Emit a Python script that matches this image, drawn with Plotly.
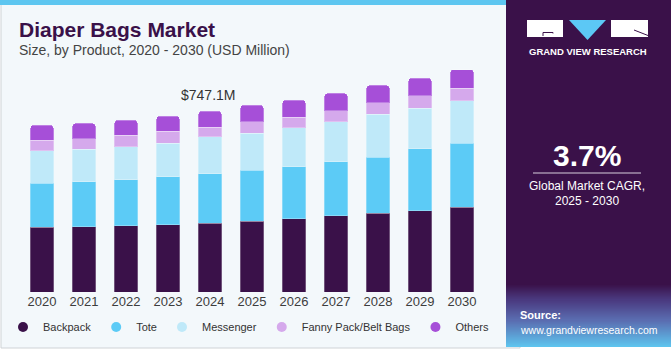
import plotly.graph_objects as go

# ---------------- data ----------------
years = ['2020', '2021', '2022', '2023', '2024', '2025', '2026', '2027', '2028', '2029', '2030']
backpack = [268, 270, 275, 278, 285, 293, 303, 315, 326, 337, 351]
tote = [183, 186, 190, 198, 203.5, 211, 216, 223, 232, 255, 264]
messenger = [133, 135, 136, 140, 152.6, 153, 160, 166, 176, 168, 175]
fanny = [44, 43, 48, 48, 40, 47, 44, 45, 48, 51, 52]
others = [62, 63, 61, 63, 66, 68, 70, 72, 72, 73, 77]
series_names = ['Backpack', 'Tote', 'Messenger', 'Fanny Pack/Belt Bags', 'Others']
series_values = [backpack, tote, messenger, fanny, others]
series_colors = ['#3a1149', '#5ccbf6', '#bfe9f9', '#d5a9ec', '#a64fd8']
highlight_year = '2024'
highlight_label = '$747.1M'
cagr_text = '3.7%'

W, H = 671, 350
FONT = 'Liberation Sans, Arial, sans-serif'


def X(px):
    return px / W


def Y(py):
    return 1 - py / H


fig = go.Figure()

for name, vals, col in zip(series_names, series_values, series_colors):
    fig.add_trace(go.Bar(
        x=years, y=vals, name=name, marker_color=col,
        marker_line=dict(color='rgba(255,255,255,0.28)', width=1),
        showlegend=False, hoverinfo='x+y+name'))

# legend entries with round markers (no data drawn)
for name, col in zip(series_names, series_colors):
    fig.add_trace(go.Scatter(
        x=[years[0]], y=[None], mode='markers', name=name,
        marker=dict(symbol='circle', size=10, color=col), showlegend=True, hoverinfo='skip'))

hi = years.index(highlight_year)
total_hi = sum(v[hi] for v in series_values)

shapes = []
shapes.append(dict(type='rect', xref='paper', yref='paper', x0=X(1), x1=X(520), y0=Y(348), y1=Y(0),
                   line=dict(color='#cfd3d6', width=1), fillcolor='#f3f8fb', layer='below'))
shapes.append(dict(type='rect', xref='paper', yref='paper', x0=0, x1=X(506), y0=Y(5), y1=1,
                   line=dict(width=0), fillcolor='#5dc6f0', layer='below'))
shapes.append(dict(type='rect', xref='paper', yref='paper', x0=X(506), x1=1, y0=Y(284), y1=1,
                   line=dict(width=0), fillcolor='#3a1149', layer='below'))


def lerp(c1, c2, t):
    a = [int(c1[i:i + 2], 16) for i in (1, 3, 5)]
    b = [int(c2[i:i + 2], 16) for i in (1, 3, 5)]
    return 'rgb(%d,%d,%d)' % tuple(round(a[k] + (b[k] - a[k]) * t) for k in range(3))


stops = [(284, '#3a1149'), (300, '#4a3a80'), (320, '#5a6cb0'), (347, '#5ec4ee')]
for (ya, ca), (yb, cb) in zip(stops[:-1], stops[1:]):
    n = int(yb - ya)
    for i in range(n):
        shapes.append(dict(type='rect', xref='paper', yref='paper', x0=X(506), x1=1,
                           y0=Y(ya + i + 1.05), y1=Y(ya + i),
                           line=dict(width=0), fillcolor=lerp(ca, cb, i / max(n - 1, 1)), layer='below'))

# logo
shapes.append(dict(type='rect', xref='paper', yref='paper', x0=X(527), x1=X(563), y0=Y(37), y1=Y(20),
                   line=dict(width=0), fillcolor='white'))
shapes.append(dict(type='path', xref='paper', yref='paper',
                   path='M %f %f L %f %f L %f %f L %f %f' % (X(543), Y(36), X(543), Y(32.5), X(553), Y(32.5), X(553), Y(33.5)),
                   line=dict(color='#3a1149', width=1)))
shapes.append(dict(type='path', xref='paper', yref='paper',
                   path='M %f %f L %f %f L %f %f Z' % (X(569), Y(20), X(606), Y(20), X(587.5), Y(40)),
                   line=dict(width=0), fillcolor='#5cc8f5'))
shapes.append(dict(type='rect', xref='paper', yref='paper', x0=X(611), x1=X(648), y0=Y(37), y1=Y(20),
                   line=dict(width=0), fillcolor='white'))
shapes.append(dict(type='line', xref='paper', yref='paper', x0=X(634), y0=Y(30), x1=X(648), y1=Y(35.5),
                   line=dict(color='#3a1149', width=1)))
shapes.append(dict(type='line', xref='paper', yref='paper', x0=X(533), x1=X(641), y0=Y(173), y1=Y(173),
                   line=dict(color='#d8d0de', width=1)))

annotations = [
    dict(text='<b>Diaper Bags Market</b>', x=X(17), y=Y(29.5), xref='paper', yref='paper',
         xanchor='left', yanchor='middle', showarrow=False,
         font=dict(size=21, color='#3a1149', family=FONT)),
    dict(text='Size, by Product, 2020 - 2030 (USD Million)', x=X(17), y=Y(49.5), xref='paper', yref='paper',
         xanchor='left', yanchor='middle', showarrow=False,
         font=dict(size=14, color='#444444', family=FONT)),
    dict(text=highlight_label, x=hi, y=total_hi, xref='x', yref='y',
         xanchor='center', yanchor='bottom', yshift=6, xshift=-2, showarrow=False,
         font=dict(size=14, color='#333333', family=FONT)),
    dict(text='<b>GRAND VIEW RESEARCH</b>', x=X(587.5), y=Y(51.5), xref='paper', yref='paper',
         xanchor='center', yanchor='middle', showarrow=False,
         font=dict(size=9.5, color='white', family=FONT)),
    dict(text='<b>' + cagr_text + '</b>', x=X(587), y=Y(155), xref='paper', yref='paper',
         xanchor='center', yanchor='middle', showarrow=False,
         font=dict(size=30, color='white', family=FONT)),
    dict(text='Global Market CAGR,', x=X(587), y=Y(186), xref='paper', yref='paper',
         xanchor='center', yanchor='middle', showarrow=False,
         font=dict(size=12, color='white', family=FONT)),
    dict(text='2025 - 2030', x=X(587), y=Y(201), xref='paper', yref='paper',
         xanchor='center', yanchor='middle', showarrow=False,
         font=dict(size=12, color='white', family=FONT)),
    dict(text='<b>Source:</b>', x=X(518), y=Y(315), xref='paper', yref='paper',
         xanchor='left', yanchor='middle', showarrow=False,
         font=dict(size=11, color='white', family=FONT)),
    dict(text='www.grandviewresearch.com', x=X(518), y=Y(329.5), xref='paper', yref='paper',
         xanchor='left', yanchor='middle', showarrow=False,
         font=dict(size=10.5, color='white', family=FONT)),
]

fig.update_layout(
    width=W, height=H, autosize=False,
    margin=dict(l=0, r=0, t=0, b=0),
    paper_bgcolor='#ffffff', plot_bgcolor='rgba(0,0,0,0)',
    barmode='stack', bargap=0.45, barcornerradius=3,
    font=dict(family=FONT, color='#333333'),
    xaxis=dict(domain=[X(21), X(483)], type='category', categoryorder='array', categoryarray=years,
               range=[-0.5, len(years) - 0.5], showgrid=False, zeroline=False,
               showline=False, ticks='', tickfont=dict(size=13, color='#3d3d3d')),
    yaxis=dict(domain=[Y(292.3), Y(60)], range=[0, 958.9], visible=False, showgrid=False),
    legend=dict(orientation='h', x=X(3), xanchor='left', y=Y(327), yanchor='middle',
                traceorder='normal', font=dict(size=11, color='#333333'), bgcolor='rgba(0,0,0,0)',
                itemwidth=30, tracegroupgap=0),
    shapes=shapes, annotations=annotations,
)

fig.write_html('out.html')
